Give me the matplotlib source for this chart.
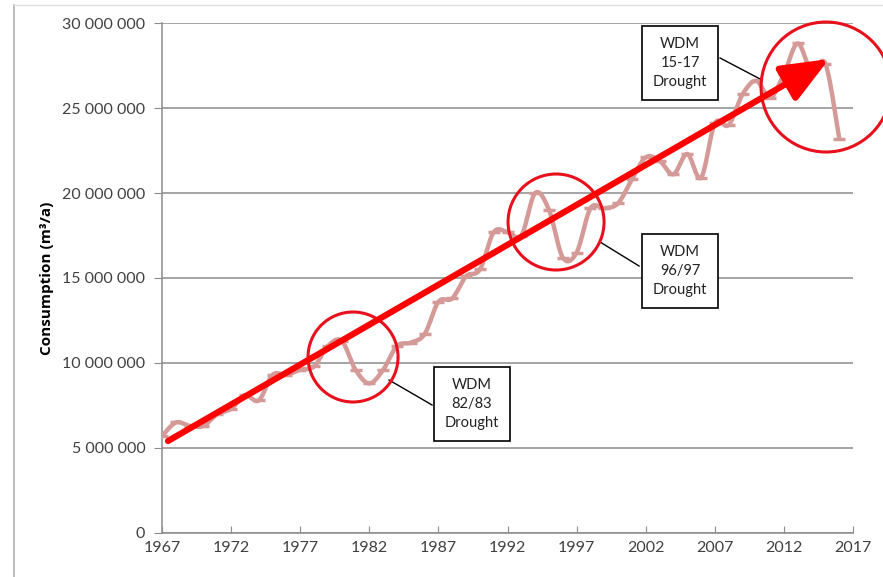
import numpy as np
import matplotlib
matplotlib.use("Agg")
import matplotlib.pyplot as plt
from matplotlib.patches import Ellipse, FancyArrowPatch
from matplotlib.ticker import FuncFormatter

plt.rcParams['font.family'] = ['Lato', 'DejaVu Sans']

years = list(range(1967, 2017))
consumption = [5.7, 6.5, 6.3, 6.3, 7.0, 7.3, 8.1, 7.8, 9.3, 9.3,
               9.6, 9.8, 11.0, 11.3, 9.6, 8.8, 9.6, 11.0, 11.2, 11.7,
               13.6, 13.8, 15.1, 15.5, 17.7, 17.7, 17.5, 20.0, 19.0, 16.2,
               16.5, 19.1, 19.1, 19.4, 20.8, 22.1, 21.9, 21.1, 22.3, 20.9,
               24.1, 24.0, 25.8, 26.6, 25.6, 27.0, 28.8, 27.1, 27.6, 23.2]
consumption = [v * 1e6 for v in consumption]

xticks = list(range(1967, 2018, 5))
yticks = [0, 5e6, 10e6, 15e6, 20e6, 25e6, 30e6]

droughts = ["WDM\n82/83\nDrought", "WDM\n96/97\nDrought", "WDM\n15-17\nDrought"]


def smooth(x, y, n=20):
    # excel style smoothed line (catmull-rom bezier)
    x = np.asarray(x, float)
    y = np.asarray(y, float)
    px = np.concatenate([[x[0]], x, [x[-1]]])
    py = np.concatenate([[y[0]], y, [y[-1]]])
    ox, oy = [], []
    t = np.linspace(0, 1, n, endpoint=False)
    for i in range(1, len(px) - 2):
        p0, p1, p2, p3 = px[i-1:i+3]
        q0, q1, q2, q3 = py[i-1:i+3]
        c1x, c1y = p1 + (p2 - p0) / 6, q1 + (q2 - q0) / 6
        c2x, c2y = p2 - (p3 - p1) / 6, q2 - (q3 - q1) / 6
        b = [(1-t)**3, 3*(1-t)**2*t, 3*(1-t)*t**2, t**3]
        ox.extend(b[0]*p1 + b[1]*c1x + b[2]*c2x + b[3]*p2)
        oy.extend(b[0]*q1 + b[1]*c1y + b[2]*c2y + b[3]*q2)
    ox.append(x[-1])
    oy.append(y[-1])
    return np.array(ox), np.array(oy)


fig = plt.figure(figsize=(8.83, 5.77), dpi=100)
ax = fig.add_axes([0.1835, 0.0763, 0.7826, 0.8838])

# screenshot frame
fig.add_artist(plt.Line2D([14/883, 14/883], [0, 1-5/577], color='#b0b0b0', lw=1.2))
fig.add_artist(plt.Line2D([14/883, 1], [1-5/577, 1-5/577], color='#e0e0e0', lw=1.0))

sx, sy = smooth(years, consumption)
ax.plot(sx, sy, color='#d49a98', lw=3.2, solid_capstyle='round', zorder=3)
ax.plot(years, consumption, ls='none', marker='_', ms=9, mew=2.5, color='#d49a98', zorder=3)

ax.set_xlim(1967, 2017)
ax.set_ylim(0, 30e6)
ax.set_xticks(xticks)
ax.set_yticks(yticks)
ax.yaxis.set_major_formatter(FuncFormatter(lambda v, p: f"{int(v):,}".replace(",", " ")))
ax.grid(axis='y', color='#8c8c8c', lw=1.1)
ax.set_axisbelow(True)
for s in ['top', 'right']:
    ax.spines[s].set_visible(False)
for s in ['left', 'bottom']:
    ax.spines[s].set_color('#8c8c8c')
    ax.spines[s].set_linewidth(1.1)
ax.tick_params(axis='y', direction='out', length=6, color='#8c8c8c', labelsize=11.5, labelcolor='#404040', pad=6)
ax.tick_params(axis='x', direction='in', length=5, color='#8c8c8c', labelsize=11.5, labelcolor='#404040', pad=6)
ax.set_ylabel("Consumption (m³/a)", fontsize=11, fontweight='bold', labelpad=6,
              family=['Open Sans', 'DejaVu Sans'])

# pixel helpers for annotation layout
pxx = 13.82
pxy = 17.0


def to_data(px, py):
    return 1967 + (px - 162) / pxx, (533 - py) / pxy * 1e6


def circle(cx, cy, r):
    e = Ellipse(to_data(cx, cy), 2 * r / pxx, 2 * r / pxy * 1e6,
                fill=False, ec='#e8101c', lw=2.2, zorder=5, clip_on=False)
    ax.add_patch(e)


circle(353, 357, 45)
circle(556, 222, 48)
circle(826, 87, 65)

boxes = [((472, 404), (389, 380), (432, 405)),
         ((680, 271), (600, 242), (639, 266)),
         ((680, 63), (762, 80), (720, 58))]
for label, (c, a, b) in zip(droughts, boxes):
    ax.plot(*zip(to_data(*a), to_data(*b)), color='black', lw=1, zorder=4, clip_on=False)
    ax.text(*to_data(*c), label, ha='center', va='center', fontsize=10.5, linespacing=1.45,
            color='#222222', zorder=6,
            bbox=dict(boxstyle='square,pad=0.75', fc='white', ec='black', lw=1.2))

arrow = FancyArrowPatch(to_data(168, 441), to_data(829, 59),
                        arrowstyle='-|>,head_length=1.45,head_width=0.6',
                        mutation_scale=20, color='#ff0000', lw=4.5,
                        shrinkA=0, shrinkB=0, zorder=7, clip_on=False)
ax.add_patch(arrow)

fig.savefig("out.png", dpi=100)
